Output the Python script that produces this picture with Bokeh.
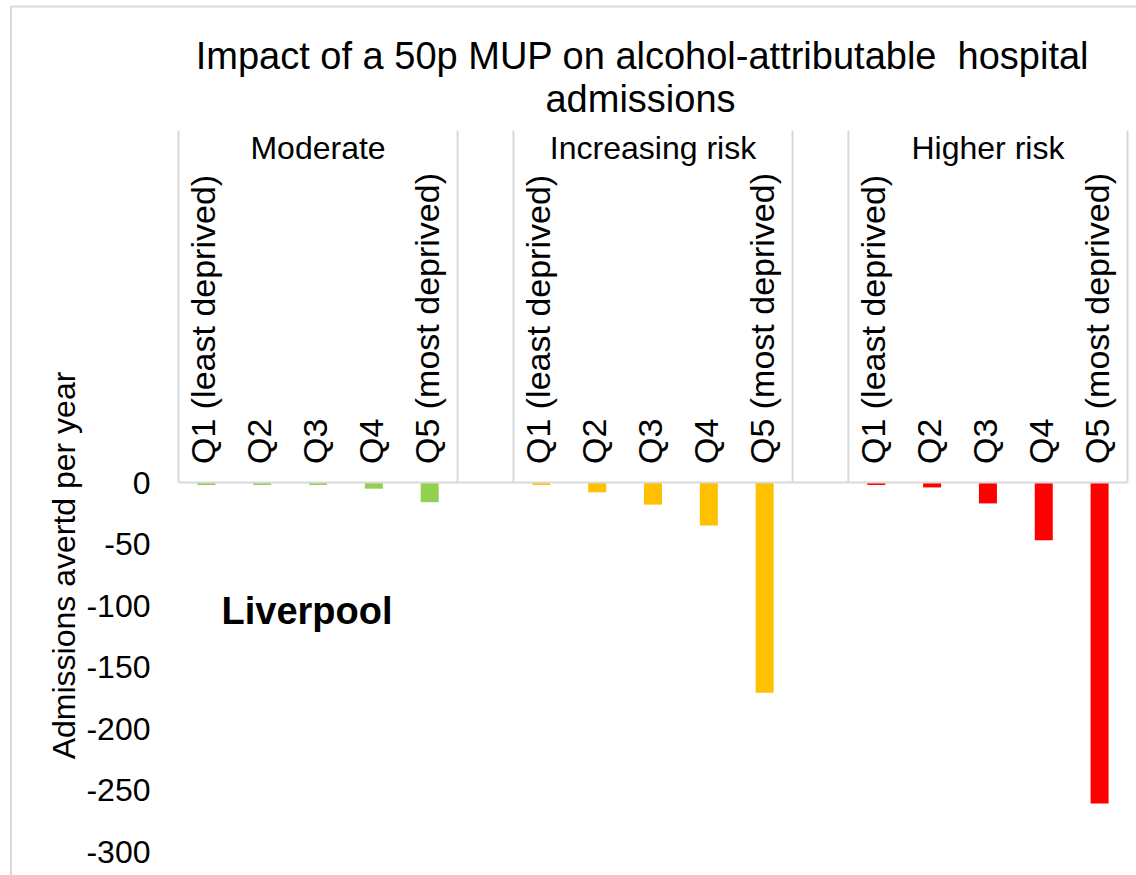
import numpy as np
from bokeh.plotting import figure
from bokeh.models import Range1d, LinearAxis, FixedTicker
from bokeh.core.properties import value
from bokeh.embed import file_html
from bokeh.resources import INLINE

# ---------------- data ----------------
title_lines = ["Impact of a 50p MUP on alcohol-attributable\u00a0 hospital", "admissions"]
groups = ["Moderate", "Increasing risk", "Higher risk"]
quintiles = ["Q1 (least deprived)", "Q2", "Q3", "Q4", "Q5 (most deprived)"]
moderate = [-2, -2, -2, -5, -16]
increasing_risk = [-2, -8, -18, -35, -171]
higher_risk = [-2, -4, -17, -47, -261]
group_colors = ["#92D050", "#FFC000", "#FF0000"]
y_ticks = [0, -50, -100, -150, -200, -250, -300]
y_label = "Admissions avertd per year"
place_label = "Liverpool"

# ---------------- layout (pixel geometry of the page) ----------------
W, H = 1136, 875
PAGE = 0
CAT_L, CAT_R = 178, 1127      # left/right edge of category area (page px)
ZERO_Y, BOTTOM_Y = 482, 851   # page px of 0 and of the lowest tick
FONT = "Liberation Sans"
GRAY = "#D9D9D9"

per_group = len(quintiles) + 1
n_slots = len(groups) * per_group - 1
slot = (CAT_R - CAT_L) / n_slots
ppu = (BOTTOM_Y - ZERO_Y) / (-min(y_ticks))


def xd(px):
    return (px - CAT_L) / slot - 0.5


def yd(py):
    return (ZERO_Y - py) / ppu


p = figure(width=W, height=H,
           x_range=Range1d(xd(PAGE), xd(PAGE + W)),
           y_range=Range1d(yd(PAGE + H), yd(PAGE)),
           output_backend="svg", toolbar_location=None,
           x_axis_location=None, y_axis_location=None,
           min_border=0)
p.outline_line_color = None
p.background_fill_color = "white"
p.border_fill_color = "white"
try:
    p.grid.visible = False
except Exception:
    pass

# ---------------- bars ----------------
series = [moderate, increasing_risk, higher_risk]
xs, tops, cols = [], [], []
for g, vals in enumerate(series):
    for i, v in enumerate(vals):
        xs.append(g * per_group + i)
        tops.append(v)
        cols.append(group_colors[g])
p.vbar(x=xs, top=tops, bottom=0, width=18 / slot, fill_color=cols, line_color=None)

# ---------------- category axis (drawn at zero) ----------------
box_top = yd(130)
bx = []
for g in range(len(groups)):
    bx += [g * per_group - 0.5, g * per_group + len(quintiles) - 0.5]
p.segment(x0=bx, y0=[0] * len(bx), x1=bx, y1=[box_top] * len(bx),
          line_color=GRAY, line_width=2)
p.segment(x0=[-0.5], y0=[0], x1=[n_slots - 0.5], y1=[0], line_color=GRAY, line_width=2)

# chart border (left + top)
p.segment(x0=[xd(10.5)], y0=[yd(6)], x1=[xd(10.5)], y1=[yd(PAGE + H)],
          line_color=GRAY, line_width=2)
p.segment(x0=[xd(10)], y0=[yd(6)], x1=[xd(PAGE + W)], y1=[yd(6)],
          line_color=GRAY, line_width=2)

# quintile labels
qx = [g * per_group + i for g in range(len(groups)) for i in range(len(quintiles))]
qt = [q for g in range(len(groups)) for q in quintiles]
p.text(x=qx, y=[yd(463.5)] * len(qx), text=qt, angle=np.pi / 2, x_offset=-3,
       text_font=value(FONT), text_font_size="34px", text_color="black",
       text_align="left", text_baseline="middle")

# group labels
gx = [g * per_group + (len(quintiles) - 1) / 2 for g in range(len(groups))]
p.text(x=gx, y=[yd(147.5)] * len(gx), text=groups,
       text_font=value(FONT), text_font_size="32px", text_color="black",
       text_align="center", text_baseline="alphabetic")

# title
p.text(x=[xd(642), xd(640)], y=[yd(55), yd(98)], text=title_lines,
       text_font=value(FONT), text_font_size="38px", text_color="black",
       text_align="center", text_baseline="alphabetic")

# place label
p.text(x=[xd(221)], y=[yd(610)], text=[place_label],
       text_font=value(FONT), text_font_size="38px", text_font_style="bold",
       text_color="black", text_align="left", text_baseline="alphabetic")

# y axis title
p.text(x=[xd(63)], y=[yd(565)], text=[y_label], angle=np.pi / 2,
       text_font=value(FONT), text_font_size="32px", text_color="black",
       text_align="center", text_baseline="alphabetic")

# ---------------- value axis ----------------
yaxis = LinearAxis(fixed_location=xd(160), ticker=FixedTicker(ticks=y_ticks))
yaxis.major_label_overrides = {t: str(t) for t in y_ticks}
yaxis.axis_line_color = None
yaxis.major_tick_line_color = None
yaxis.minor_tick_line_color = None
yaxis.major_tick_out = 0
yaxis.major_tick_in = 0
yaxis.major_label_standoff = 10
yaxis.major_label_text_font = FONT
yaxis.major_label_text_font_size = "32px"
yaxis.major_label_text_color = "black"
p.add_layout(yaxis, "left")

open("out.html", "w").write(file_html(p, INLINE))
